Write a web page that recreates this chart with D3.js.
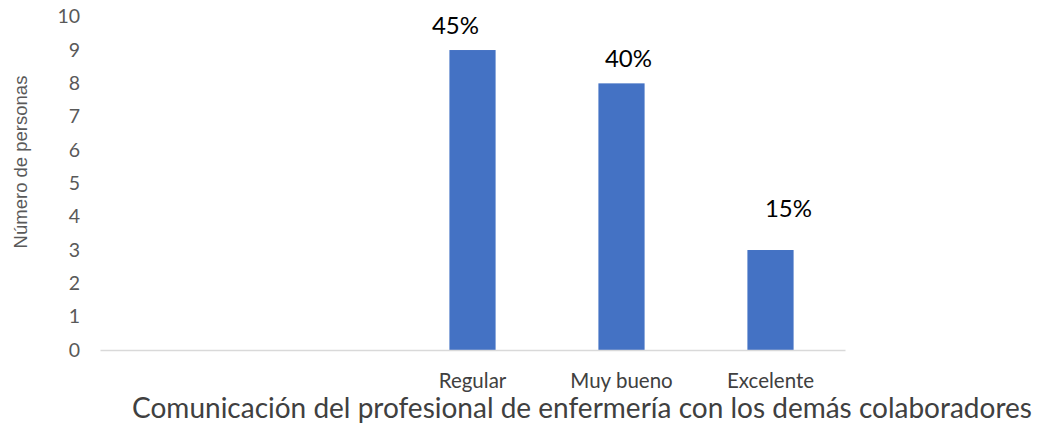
<!DOCTYPE html>
<html lang="es">
<head>
  <meta charset="utf-8">
  <title>Comunicación</title>
  <script src="https://d3js.org/d3.v7.min.js"></script>
  <style>
    body { margin: 0; background: #fff; }
    text { font-family: Lato, "Open Sans", sans-serif; }
  </style>
</head>
<body>
  <div id="chart"></div>
  <script>
    // data
    var categories = ["", "", "Regular", "Muy bueno", "Excelente"];
    var values = [0, 0, 9, 8, 3];
    var percentLabels = ["", "", "45%", "40%", "15%"];
    var yTicks = [0, 1, 2, 3, 4, 5, 6, 7, 8, 9, 10];
    var xTitle = "Comunicación del profesional de enfermería con los demás colaboradores";
    var yTitle = "Número de personas";

    var w = 1037, h = 425;
    var mLeft = 100, mRight = 845, mTop = 16.7, mBottom = 350;

    var svg = d3.select("#chart").append("svg")
      .attr("width", w).attr("height", h);

    var x = d3.scaleBand().domain(d3.range(categories.length))
      .range([mLeft, mRight]).paddingInner(0.69).paddingOuter(0.345);
    var y = d3.scaleLinear().domain([0, 10]).range([mBottom, mTop]);

    // y axis: labels only
    var yAxis = d3.axisLeft(y).tickValues(yTicks).tickSize(0).tickPadding(0);
    var gy = svg.append("g").attr("transform", "translate(80,0)").call(yAxis);
    gy.select(".domain").remove();
    gy.selectAll("text").attr("font-size", 19.5).attr("fill", "#595959")
      .style("font-family", "Lato, sans-serif");

    // bars
    svg.selectAll("rect.bar").data(values).enter().append("rect")
      .attr("class", "bar")
      .attr("x", function(d, i) { return x(i); })
      .attr("width", x.bandwidth())
      .attr("y", function(d) { return y(d); })
      .attr("height", function(d) { return mBottom - y(d); })
      .attr("fill", "#4472c4");

    // x axis line + category labels
    var xAxis = d3.axisBottom(x).tickFormat(function(i) { return categories[i]; })
      .tickSize(0).tickPadding(23);
    var gx = svg.append("g").attr("transform", "translate(0," + mBottom + ")").call(xAxis);
    gx.select(".domain").attr("stroke", "#d9d9d9").attr("stroke-width", 1.5);
    gx.selectAll("text").attr("font-size", 20.5).attr("fill", "#404040")
      .style("font-family", "Lato, sans-serif");

    // percent labels (nudged as in the original)
    var nudgeX = [0, 0, -17, 7, 18];
    var nudgeY = [0, 0, -16, -16, -33];
    svg.selectAll("text.pct").data(values).enter().append("text")
      .attr("class", "pct")
      .attr("x", function(d, i) { return x(i) + x.bandwidth() / 2 + nudgeX[i]; })
      .attr("y", function(d, i) { return y(d) + nudgeY[i]; })
      .attr("text-anchor", "middle")
      .attr("font-size", 24).attr("fill", "#000")
      .text(function(d, i) { return percentLabels[i]; });

    // axis titles
    svg.append("text")
      .attr("x", 582).attr("y", 418)
      .attr("text-anchor", "middle")
      .attr("font-size", 28).attr("fill", "#404040")
      .text(xTitle);

    svg.append("text")
      .attr("transform", "translate(27,162) rotate(-90)")
      .attr("text-anchor", "middle")
      .attr("font-size", 18.5).attr("fill", "#595959")
      .style("font-family", "'Liberation Sans Narrow', sans-serif")
      .text(yTitle);
  </script>
</body>
</html>
